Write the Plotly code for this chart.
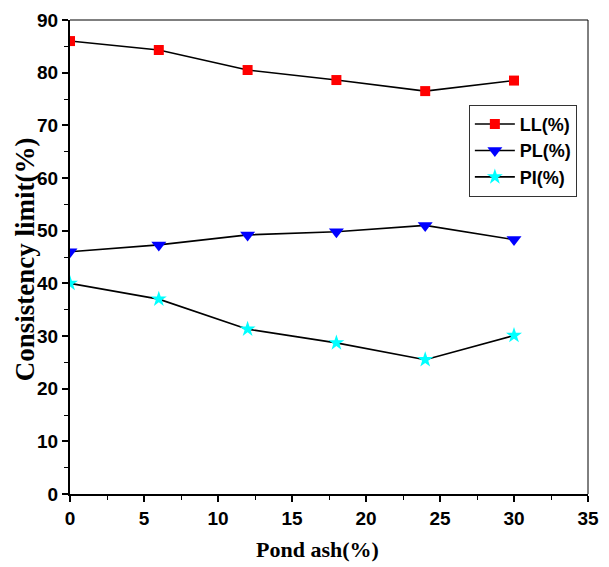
import plotly.graph_objects as go

# Pond ash content (%) and Atterberg consistency limits
pond_ash = [0, 6, 12, 18, 24, 30]
liquid_limit = [86.0, 84.3, 80.5, 78.6, 76.5, 78.5]
plastic_limit = [46.0, 47.3, 49.2, 49.8, 51.0, 48.3]
plasticity_index = [40.0, 37.0, 31.3, 28.7, 25.5, 30.1]

x_ticks = [0, 5, 10, 15, 20, 25, 30, 35]
y_ticks = [0, 10, 20, 30, 40, 50, 60, 70, 80, 90]

sans = "Liberation Sans, Arial"
serif = "Liberation Serif, Times New Roman"
tick_font = dict(family=sans, size=19, color="black", weight="bold")

fig = go.Figure()
series = [
    ("LL(%)", liquid_limit, "square", "red", 10),
    ("PL(%)", plastic_limit, "triangle-down", "blue", 13),
    ("PI(%)", plasticity_index, "star", "cyan", 12),
]
for name, vals, sym, col, size in series:
    fig.add_trace(go.Scatter(
        x=pond_ash, y=vals, name=name, mode="lines+markers",
        line=dict(color="black", width=1.6),
        marker=dict(symbol=sym, color=col, size=size, line=dict(width=0)),
    ))

fig.update_layout(
    width=609, height=567,
    margin=dict(l=70, r=21, t=20, b=73, autoexpand=False),
    paper_bgcolor="white", plot_bgcolor="white",
    showlegend=True,
    legend=dict(
        x=0.77, y=0.821, xanchor="left", yanchor="top",
        bordercolor="#333333", borderwidth=1, bgcolor="white",
        font=dict(family=sans, size=18, color="black", weight="bold"),
        itemwidth=40, tracegroupgap=2,
    ),
)

fig.update_xaxes(
    range=[0, 35], tickvals=x_ticks, ticktext=[str(v) for v in x_ticks],
    showline=True, linecolor="black", linewidth=2, mirror=False,
    ticks="outside", ticklen=6, tickwidth=1.5, tickcolor="black",
    minor=dict(dtick=2.5, ticks="outside", ticklen=4, tickwidth=1.2, tickcolor="black", showgrid=False),
    showgrid=False, zeroline=False, tickfont=tick_font, automargin=False,
)
fig.update_yaxes(
    range=[0, 90], tickvals=y_ticks, ticktext=[str(v) for v in y_ticks],
    showline=True, linecolor="black", linewidth=2, mirror=False,
    ticks="outside", ticklen=6, tickwidth=1.5, tickcolor="black",
    minor=dict(dtick=5, ticks="outside", ticklen=4, tickwidth=1.2, tickcolor="black", showgrid=False),
    showgrid=False, zeroline=False, tickfont=tick_font, automargin=False,
)

# axis titles
fig.add_annotation(text="Pond ash(%)", xref="paper", yref="paper", x=0.477, y=-0.118,
                   showarrow=False, xanchor="center", yanchor="middle",
                   font=dict(family=serif, size=22, color="black", weight="bold"))
fig.add_annotation(text="Consistency limit(%)", xref="paper", yref="paper", x=-0.087, y=0.495,
                   showarrow=False, xanchor="center", yanchor="middle", textangle=-90,
                   font=dict(family=serif, size=27, color="black", weight="bold"))

# thin frame on the top and right edges
fig.add_shape(type="line", xref="paper", yref="paper", x0=0, x1=1, y0=1, y1=1,
              line=dict(color="black", width=1))
fig.add_shape(type="line", xref="paper", yref="paper", x0=1, x1=1, y0=0, y1=1,
              line=dict(color="black", width=1))

fig.write_html("out.html")
